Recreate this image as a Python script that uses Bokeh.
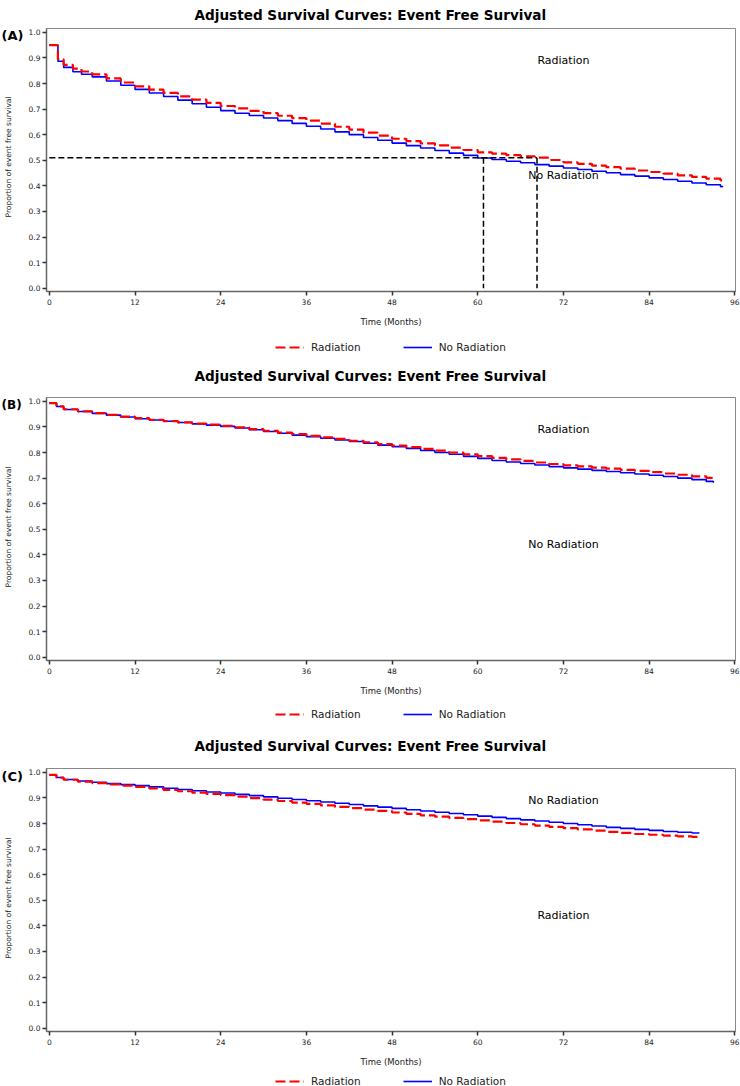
import math
from bokeh.plotting import figure
from bokeh.layouts import column, row
from bokeh.models import (FixedTicker, PrintfTickFormatter, Range1d, Legend, LegendItem, Label)
from bokeh.core.properties import value
from bokeh.embed import file_html
from bokeh.resources import INLINE

FONT = "DejaVu Sans"
TITLE = "Adjusted Survival Curves: Event Free Survival"
X_LABEL = "Time (Months)"
Y_LABEL = "Proportion of event free survival"
x_ticks = [0, 12, 24, 36, 48, 60, 72, 84, 96]
y_ticks = [0.0, 0.1, 0.2, 0.3, 0.4, 0.5, 0.6, 0.7, 0.8, 0.9, 1.0]
series_names = ["Radiation", "No Radiation"]

# ---------------- Panel A ----------------
a_time_none = [0, 1.2, 2, 3.3, 4.5, 6, 8, 10, 12, 14, 16, 18, 20, 22, 24, 26, 28, 30, 32, 34, 36, 38, 40,
               42, 44, 46, 48, 50, 52, 54, 56, 58, 60, 62, 64, 66, 68, 70, 72, 74, 76, 78, 80, 82, 84, 86,
               88, 90, 92, 94, 94.3]
a_surv_none = [0.950, 0.887, 0.863, 0.846, 0.836, 0.826, 0.810, 0.793, 0.777, 0.763, 0.749, 0.735, 0.721,
               0.707, 0.694, 0.684, 0.675, 0.665, 0.655, 0.644, 0.633, 0.622, 0.611, 0.600, 0.589, 0.578,
               0.567, 0.557, 0.548, 0.538, 0.528, 0.519, 0.509, 0.503, 0.496, 0.490, 0.483, 0.477, 0.470,
               0.464, 0.457, 0.451, 0.444, 0.438, 0.431, 0.425, 0.418, 0.411, 0.404, 0.397, 0.395]
a_time_rad = [0, 1.2, 2, 3.3, 4.5, 6, 8, 10, 12, 14, 16, 18, 20, 22, 24, 26, 28, 30, 32, 34, 36, 38, 40,
              42, 44, 46, 48, 50, 52, 54, 56, 58, 60, 62, 64, 66, 68, 70, 72, 74, 76, 78, 80, 82, 84, 86,
              88, 90, 92, 94, 94.5]
a_surv_rad = [0.950, 0.895, 0.873, 0.858, 0.847, 0.836, 0.820, 0.804, 0.789, 0.776, 0.763, 0.750, 0.737,
              0.724, 0.712, 0.703, 0.693, 0.684, 0.674, 0.665, 0.655, 0.643, 0.631, 0.620, 0.608, 0.596,
              0.584, 0.575, 0.566, 0.558, 0.549, 0.540, 0.531, 0.526, 0.520, 0.515, 0.510, 0.501, 0.492,
              0.486, 0.479, 0.473, 0.467, 0.460, 0.454, 0.448, 0.441, 0.435, 0.428, 0.421, 0.418]
a_median_level = 0.51
a_median_times = [60.8, 68.3]   # No Radiation, Radiation
a_label_text = ["Radiation", "No Radiation"]
a_label_x = [72, 72]
a_label_y = [0.89, 0.44]

# ---------------- Panel B ----------------
b_time_none = [0, 1, 2, 4, 6, 8, 10, 12, 14, 16, 18, 20, 22, 24, 26, 28, 30, 32, 34, 36, 38, 40, 42, 44,
               46, 48, 50, 52, 54, 56, 58, 60, 62, 64, 66, 68, 70, 72, 74, 76, 78, 80, 82, 84, 86, 88, 90,
               92, 93]
b_surv_none = [0.993, 0.980, 0.968, 0.960, 0.953, 0.946, 0.939, 0.932, 0.927, 0.922, 0.917, 0.912, 0.907,
               0.902, 0.896, 0.889, 0.882, 0.875, 0.868, 0.862, 0.856, 0.849, 0.843, 0.836, 0.829, 0.823,
               0.816, 0.808, 0.800, 0.793, 0.785, 0.777, 0.769, 0.763, 0.757, 0.751, 0.745, 0.740, 0.735,
               0.730, 0.726, 0.721, 0.716, 0.711, 0.706, 0.700, 0.694, 0.687, 0.682]
b_time_rad = [0, 1, 2, 4, 6, 8, 10, 12, 14, 16, 18, 20, 22, 24, 26, 28, 30, 32, 34, 36, 38, 40, 42, 44,
              46, 48, 50, 52, 54, 56, 58, 60, 62, 64, 66, 68, 70, 72, 74, 76, 78, 80, 82, 84, 86, 88, 90,
              92, 93.3]
b_surv_rad = [0.993, 0.980, 0.969, 0.961, 0.954, 0.947, 0.940, 0.934, 0.928, 0.923, 0.918, 0.913, 0.909,
              0.904, 0.898, 0.891, 0.885, 0.878, 0.872, 0.865, 0.859, 0.853, 0.846, 0.840, 0.833, 0.827,
              0.821, 0.814, 0.807, 0.800, 0.793, 0.786, 0.779, 0.773, 0.767, 0.761, 0.755, 0.750, 0.746,
              0.741, 0.737, 0.732, 0.728, 0.723, 0.718, 0.713, 0.707, 0.701, 0.696]
b_label_text = ["Radiation", "No Radiation"]
b_label_x = [72, 72]
b_label_y = [0.89, 0.44]

# ---------------- Panel C ----------------
c_time_none = [0, 1, 2, 4, 6, 8, 10, 12, 14, 16, 18, 20, 22, 24, 26, 28, 30, 32, 34, 36, 38, 40, 42, 44,
               46, 48, 50, 52, 54, 56, 58, 60, 62, 64, 66, 68, 70, 72, 74, 76, 78, 80, 82, 84, 86, 88, 90,
               91]
c_surv_none = [0.990, 0.980, 0.972, 0.966, 0.961, 0.956, 0.952, 0.948, 0.943, 0.938, 0.933, 0.928, 0.923,
               0.919, 0.914, 0.909, 0.904, 0.899, 0.894, 0.889, 0.884, 0.879, 0.874, 0.869, 0.864, 0.859,
               0.854, 0.849, 0.844, 0.839, 0.834, 0.829, 0.824, 0.819, 0.814, 0.810, 0.805, 0.800, 0.795,
               0.790, 0.785, 0.781, 0.777, 0.773, 0.769, 0.766, 0.763, 0.762]
c_time_rad = [0, 1, 2, 4, 6, 8, 10, 12, 14, 16, 18, 20, 22, 24, 26, 28, 30, 32, 34, 36, 38, 40, 42, 44,
              46, 48, 50, 52, 54, 56, 58, 60, 62, 64, 66, 68, 70, 72, 74, 76, 78, 80, 82, 84, 86, 88, 90,
              91]
c_surv_rad = [0.990, 0.979, 0.971, 0.964, 0.958, 0.953, 0.948, 0.943, 0.937, 0.931, 0.926, 0.921, 0.916,
              0.911, 0.905, 0.899, 0.893, 0.888, 0.882, 0.877, 0.871, 0.865, 0.860, 0.854, 0.849, 0.843,
              0.838, 0.832, 0.827, 0.822, 0.817, 0.812, 0.807, 0.802, 0.797, 0.792, 0.787, 0.782, 0.777,
              0.772, 0.767, 0.763, 0.759, 0.756, 0.753, 0.750, 0.748, 0.747]
c_label_text = ["No Radiation", "Radiation"]
c_label_x = [72, 72]
c_label_y = [0.89, 0.44]

RED = "#ff0000"
BLUE = "#0000ff"
FRAME_H = 263
FRAME_W = 689
SIDE_W = 24
RED_DASH = "10 4"


def make_panel(t_rad, s_rad, t_none, s_none, lab_text, lab_x, lab_y,
               top, bottom, title_standoff, median=None):
    p = figure(frame_width=FRAME_W, frame_height=FRAME_H, output_backend="svg", toolbar_location=None,
               x_range=Range1d(-0.4, 96.1), y_range=Range1d(-0.013, 1.015), title=TITLE,
               min_border_left=46 - SIDE_W, min_border_right=5, min_border_top=top,
               min_border_bottom=bottom)
    p.grid.visible = False
    p.outline_line_color = "#8a8a8a"
    p.outline_line_width = 1

    p.title.align = "left"
    p.title.offset = 148
    p.title.vertical_align = "middle"
    p.title.text_font = FONT
    p.title.text_font_size = "13.6px"
    p.title.text_font_style = "bold"
    p.title.text_color = "black"
    p.title.standoff = title_standoff

    p.xaxis.ticker = FixedTicker(ticks=x_ticks)
    p.yaxis.ticker = FixedTicker(ticks=y_ticks)
    p.yaxis.formatter = PrintfTickFormatter(format="%.1f")
    p.xaxis.axis_label = X_LABEL
    for ax in (p.xaxis[0], p.yaxis[0]):
        ax.major_label_text_font = FONT
        ax.major_label_text_font_size = "7.5px"
        ax.major_label_text_color = "#222222"
        ax.axis_label_text_font = FONT
        ax.axis_label_text_font_style = "normal"
        ax.axis_label_text_color = "#222222"
        ax.minor_tick_line_color = None
        ax.major_tick_out = 4
        ax.major_tick_in = 0
        ax.major_tick_line_color = "#333333"
        ax.major_tick_line_width = 1.5
        ax.axis_line_color = "#666666"
        ax.axis_line_width = 1.5
    p.xaxis.major_label_standoff = 3
    p.yaxis.major_label_standoff = 2
    p.xaxis.axis_label_text_font_size = "8.5px"
    p.xaxis.axis_label_standoff = 9

    p.step(t_none, s_none, mode="after", line_color=BLUE, line_width=1.6)
    p.step(t_rad, s_rad, mode="after", line_color=RED, line_width=2.2, line_dash=RED_DASH)

    if median is not None:
        level, times = median
        p.segment(x0=[0], y0=[level], x1=[max(times)], y1=[level],
                  line_color="black", line_width=1.5, line_dash="6 3")
        p.segment(x0=times, y0=[level] * len(times), x1=times, y1=[0] * len(times),
                  line_color="black", line_width=1.5, line_dash="6 3")

    p.text(x=lab_x, y=lab_y, text=lab_text, text_font=value(FONT), text_font_size=value("11px"),
           text_align="center", text_baseline="middle", text_color="black")
    return p


def make_side(tag, tag_size, height):
    # this small figure's frame is aligned by the row with the neighbouring plot frame
    s = figure(width=SIDE_W, height=height, output_backend="svg", toolbar_location=None,
               x_axis_location=None, y_axis_location=None, min_border=0,
               x_range=Range1d(0, 1), y_range=Range1d(0, 1))
    s.outline_line_color = None
    s.grid.visible = False
    s.add_layout(Label(x=1, y=FRAME_H - 7.5, x_units="screen", y_units="screen", text=tag,
                       text_font=FONT, text_font_style="bold", text_font_size=tag_size,
                       text_align="left", text_baseline="middle", text_color="black"))
    s.add_layout(Label(x=8, y=FRAME_H / 2 + 2, x_units="screen", y_units="screen",
                       text=Y_LABEL, angle=math.pi / 2, text_font=FONT, text_font_size="7.5px",
                       text_align="center", text_baseline="middle", text_color="#222222"))
    return s


def make_legend(height, t_rad, s_rad, t_none, s_none):
    # legend strip; its ranges keep the two series out of view so only the legend shows
    lf = figure(width=740, height=height, output_backend="svg", toolbar_location=None,
                x_axis_location=None, y_axis_location=None, min_border=0,
                x_range=Range1d(0, 96), y_range=Range1d(5, 6))
    lf.outline_line_color = None
    lf.grid.visible = False
    r_rad = lf.line(x=t_rad, y=s_rad, line_color=RED, line_width=2.2, line_dash=RED_DASH)
    r_none = lf.line(x=t_none, y=s_none, line_color=BLUE, line_width=1.6)
    legend = Legend(items=[LegendItem(label=series_names[0], renderers=[r_rad]),
                           LegendItem(label=series_names[1], renderers=[r_none])],
                    orientation="horizontal", location=(275, 0),
                    border_line_color=None, background_fill_alpha=0,
                    label_text_font=FONT, label_text_font_size="10.5px", label_text_color="#222222",
                    glyph_width=29, glyph_height=12, label_height=12, label_standoff=7,
                    spacing=42, margin=0, padding=1)
    lf.add_layout(legend, "center")
    return lf


A_TOP, A_BOT = 27, 48
B_TOP, B_BOT = 44, 46
C_TOP, C_BOT = 48, 43
A_H = A_TOP + FRAME_H + A_BOT
B_H = B_TOP + FRAME_H + B_BOT
C_H = C_TOP + FRAME_H + C_BOT

pa = make_panel(a_time_rad, a_surv_rad, a_time_none, a_surv_none,
                a_label_text, a_label_x, a_label_y, A_TOP, A_BOT, 10,
                median=(a_median_level, a_median_times))
pb = make_panel(b_time_rad, b_surv_rad, b_time_none, b_surv_none,
                b_label_text, b_label_x, b_label_y, B_TOP, B_BOT, 26)
pc = make_panel(c_time_rad, c_surv_rad, c_time_none, c_surv_none,
                c_label_text, c_label_x, c_label_y, C_TOP, C_BOT, 28)

sa = make_side("(A)", "13px", A_H)
sb = make_side("(B)", "12px", B_H)
sc = make_side("(C)", "13px", C_H)

la = make_legend(14, a_time_rad, a_surv_rad, a_time_none, a_surv_none)
lb = make_legend(14, b_time_rad, b_surv_rad, b_time_none, b_surv_none)
lc = make_legend(13, c_time_rad, c_surv_rad, c_time_none, c_surv_none)

layout = column(row(sa, pa), la, row(sb, pb), lb, row(sc, pc), lc, spacing=0)
open("out.html", "w").write(file_html(layout, INLINE))
